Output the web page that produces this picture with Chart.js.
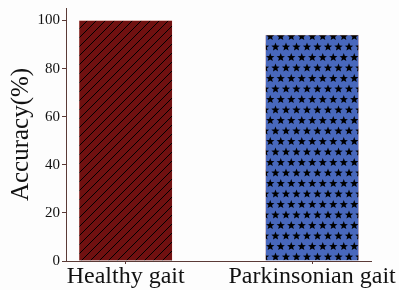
<!DOCTYPE html>
<html>
<head>
<meta charset="utf-8">
<script src="https://cdn.jsdelivr.net/npm/chart.js@4/dist/chart.umd.min.js"></script>
<style>
  html, body { margin: 0; padding: 0; background: #fdfdfd; }
  #wrap { width: 399px; height: 290px; }
</style>
</head>
<body>
<div id="wrap"><canvas id="chart"></canvas></div>
<script>
const categories = ['Healthy gait', 'Parkinsonian gait'];
const accuracy = [100, 93.9];
const yTicks = [0, 20, 40, 60, 80, 100];

const axisColor = '#5a3a36';
const font = 'Liberation Serif';

// diagonal hatch on dark red
const makeHatch = () => {
  const c = document.createElement('canvas');
  c.width = 9;
  c.height = 9;
  const ctx = c.getContext('2d');
  ctx.fillStyle = '#701010';
  ctx.fillRect(0, 0, 9, 9);
  ctx.strokeStyle = '#000';
  ctx.lineWidth = 1;
  ctx.beginPath();
  ctx.moveTo(-1, 10); ctx.lineTo(10, -1);
  ctx.moveTo(-1, 1); ctx.lineTo(1, -1);
  ctx.moveTo(8, 10); ctx.lineTo(10, 8);
  ctx.stroke();
  return ctx.createPattern(c, 'repeat');
};

// black stars on blue
const makeStars = () => {
  const s = 21;
  const c = document.createElement('canvas');
  c.width = s;
  c.height = s;
  const ctx = c.getContext('2d');
  ctx.fillStyle = '#4868bd';
  ctx.fillRect(0, 0, s, s);
  ctx.fillStyle = '#000';
  const star = (cx, cy) => {
    ctx.beginPath();
    for (let i = 0; i < 10; i++) {
      const r = i % 2 === 0 ? 4.4 : 1.9;
      const a = -Math.PI / 2 + (i * Math.PI) / 5;
      const px = cx + r * Math.cos(a);
      const py = cy + r * Math.sin(a);
      i === 0 ? ctx.moveTo(px, py) : ctx.lineTo(px, py);
    }
    ctx.closePath();
    ctx.fill();
  };
  const centers = [[2.5, 5], [13, 5], [7.75, 15.5], [18.25, 15.5]];
  centers.forEach(([x, y]) => {
    for (let dx = -s; dx <= s; dx += s) {
      for (let dy = -s; dy <= s; dy += s) star(x + dx, y + dy);
    }
  });
  return ctx.createPattern(c, 'repeat');
};

new Chart(document.getElementById('chart'), {
  type: 'bar',
  data: {
    datasets: [
      {
        data: accuracy.map((v, i) => ({ x: i, y: v })),
        backgroundColor: [makeHatch(), makeStars()],
        borderColor: '#f3c9c0',
        borderWidth: 0.5,
        barThickness: 93,
      },
    ],
  },
  options: {
    responsive: true,
    maintainAspectRatio: false,
    animation: false,
    layout: { padding: { top: 7, right: 27, left: 0, bottom: 0 } },
    plugins: { legend: { display: false }, tooltip: { enabled: false } },
    scales: {
      x: {
        type: 'linear',
        offset: false,
        min: -0.32,
        max: 1.32,
        afterBuildTicks: (scale) => {
          scale.ticks = categories.map((_, i) => ({ value: i }));
        },
        afterFit: (scale) => { scale.height = 29; },
        ticks: {
          callback: (v) => categories[v],
          color: '#111',
          font: { family: font, size: 24 },
          padding: -2,
          maxRotation: 0,
          autoSkip: false,
        },
        grid: { drawOnChartArea: false, offset: false, color: axisColor, tickLength: 3 },
        border: { color: axisColor, width: 1 },
      },
      y: {
        min: 0,
        max: 105.2,
        afterBuildTicks: (scale) => {
          scale.ticks = yTicks.map((v) => ({ value: v }));
        },
        afterFit: (scale) => { scale.width = 66; },
        title: {
          display: true,
          text: 'Accuracy(%)',
          color: '#111',
          font: { family: font, size: 25 },
          padding: { top: 6, bottom: 0 },
        },
        ticks: {
          color: '#111',
          font: { family: font, size: 15, lineHeight: 0.8 },
          padding: 2,
        },
        grid: { drawOnChartArea: false, color: axisColor, tickLength: 4 },
        border: { color: axisColor, width: 1 },
      },
    },
  },
});
</script>
</body>
</html>
